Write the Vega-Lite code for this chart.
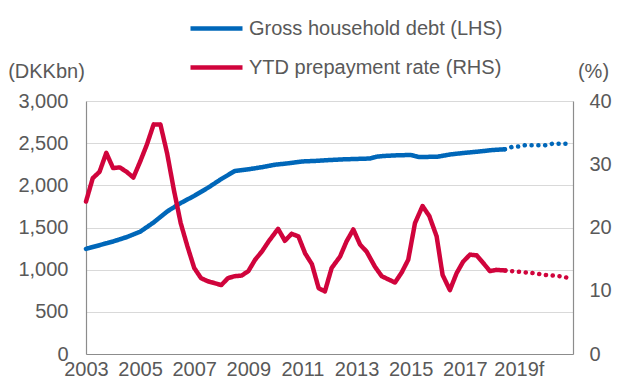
{
  "$schema": "https://vega.github.io/schema/vega-lite/v6.json",
  "width": 487,
  "height": 253,
  "autosize": "none",
  "padding": {"left": 86, "top": 101, "right": 49, "bottom": 24},
  "background": "white",
  "config": {
    "font": "Liberation Sans",
    "view": {"stroke": null},
    "axis": {"labelFontSize": 20, "labelColor": "#595959", "titleColor": "#595959", "titleFontSize": 20, "titleFontWeight": "normal", "ticks": false, "domainColor": "#8c8c8c", "domainWidth": 1.2, "gridColor": "#d9d9d9", "gridWidth": 1.2},
    "legend": {"labelFontSize": 20, "labelColor": "#595959", "labelFont": "Liberation Sans"}
  },
  "data": {"values": [
    {"s":"Gross household debt (LHS)","seg":"a","x":2003.0,"v":1247},
    {"s":"Gross household debt (LHS)","seg":"a","x":2003.5,"v":1290},
    {"s":"Gross household debt (LHS)","seg":"a","x":2004.0,"v":1334},
    {"s":"Gross household debt (LHS)","seg":"a","x":2004.5,"v":1385},
    {"s":"Gross household debt (LHS)","seg":"a","x":2005.0,"v":1450},
    {"s":"Gross household debt (LHS)","seg":"a","x":2005.5,"v":1560},
    {"s":"Gross household debt (LHS)","seg":"a","x":2006.0,"v":1690},
    {"s":"Gross household debt (LHS)","seg":"a","x":2006.5,"v":1790},
    {"s":"Gross household debt (LHS)","seg":"a","x":2007.0,"v":1875},
    {"s":"Gross household debt (LHS)","seg":"a","x":2007.5,"v":1970},
    {"s":"Gross household debt (LHS)","seg":"a","x":2008.0,"v":2075},
    {"s":"Gross household debt (LHS)","seg":"a","x":2008.5,"v":2170},
    {"s":"Gross household debt (LHS)","seg":"a","x":2009.0,"v":2190},
    {"s":"Gross household debt (LHS)","seg":"a","x":2009.5,"v":2215},
    {"s":"Gross household debt (LHS)","seg":"a","x":2010.0,"v":2245},
    {"s":"Gross household debt (LHS)","seg":"a","x":2010.5,"v":2262},
    {"s":"Gross household debt (LHS)","seg":"a","x":2011.0,"v":2283},
    {"s":"Gross household debt (LHS)","seg":"a","x":2011.5,"v":2290},
    {"s":"Gross household debt (LHS)","seg":"a","x":2012.0,"v":2300},
    {"s":"Gross household debt (LHS)","seg":"a","x":2012.5,"v":2308},
    {"s":"Gross household debt (LHS)","seg":"a","x":2013.0,"v":2313},
    {"s":"Gross household debt (LHS)","seg":"a","x":2013.5,"v":2318},
    {"s":"Gross household debt (LHS)","seg":"a","x":2013.75,"v":2340},
    {"s":"Gross household debt (LHS)","seg":"a","x":2014.0,"v":2348},
    {"s":"Gross household debt (LHS)","seg":"a","x":2014.5,"v":2356},
    {"s":"Gross household debt (LHS)","seg":"a","x":2015.0,"v":2360},
    {"s":"Gross household debt (LHS)","seg":"a","x":2015.3,"v":2335},
    {"s":"Gross household debt (LHS)","seg":"a","x":2016.0,"v":2340},
    {"s":"Gross household debt (LHS)","seg":"a","x":2016.5,"v":2368},
    {"s":"Gross household debt (LHS)","seg":"a","x":2017.0,"v":2385},
    {"s":"Gross household debt (LHS)","seg":"a","x":2017.5,"v":2400},
    {"s":"Gross household debt (LHS)","seg":"a","x":2018.0,"v":2418},
    {"s":"Gross household debt (LHS)","seg":"a","x":2018.48,"v":2428},
    {"s":"Gross household debt (LHS)","seg":"f","x":2018.48,"v":2428},
    {"s":"Gross household debt (LHS)","seg":"f","x":2018.73,"v":2454},
    {"s":"Gross household debt (LHS)","seg":"f","x":2018.98,"v":2460},
    {"s":"Gross household debt (LHS)","seg":"f","x":2019.22,"v":2475},
    {"s":"Gross household debt (LHS)","seg":"f","x":2019.96,"v":2475},
    {"s":"Gross household debt (LHS)","seg":"f","x":2020.25,"v":2494},
    {"s":"Gross household debt (LHS)","seg":"f","x":2020.76,"v":2494},
    {"s":"YTD prepayment rate (RHS)","seg":"a","x":2003.0,"v":24.1},
    {"s":"YTD prepayment rate (RHS)","seg":"a","x":2003.25,"v":27.8},
    {"s":"YTD prepayment rate (RHS)","seg":"a","x":2003.5,"v":28.8},
    {"s":"YTD prepayment rate (RHS)","seg":"a","x":2003.75,"v":31.8},
    {"s":"YTD prepayment rate (RHS)","seg":"a","x":2004.0,"v":29.4},
    {"s":"YTD prepayment rate (RHS)","seg":"a","x":2004.25,"v":29.5},
    {"s":"YTD prepayment rate (RHS)","seg":"a","x":2004.5,"v":28.8},
    {"s":"YTD prepayment rate (RHS)","seg":"a","x":2004.75,"v":27.9},
    {"s":"YTD prepayment rate (RHS)","seg":"a","x":2005.0,"v":30.4},
    {"s":"YTD prepayment rate (RHS)","seg":"a","x":2005.25,"v":33.1},
    {"s":"YTD prepayment rate (RHS)","seg":"a","x":2005.5,"v":36.3},
    {"s":"YTD prepayment rate (RHS)","seg":"a","x":2005.75,"v":36.3},
    {"s":"YTD prepayment rate (RHS)","seg":"a","x":2006.0,"v":31.7},
    {"s":"YTD prepayment rate (RHS)","seg":"a","x":2006.25,"v":25.9},
    {"s":"YTD prepayment rate (RHS)","seg":"a","x":2006.5,"v":20.7},
    {"s":"YTD prepayment rate (RHS)","seg":"a","x":2006.75,"v":17.0},
    {"s":"YTD prepayment rate (RHS)","seg":"a","x":2007.0,"v":13.6},
    {"s":"YTD prepayment rate (RHS)","seg":"a","x":2007.25,"v":12.0},
    {"s":"YTD prepayment rate (RHS)","seg":"a","x":2007.5,"v":11.5},
    {"s":"YTD prepayment rate (RHS)","seg":"a","x":2007.75,"v":11.2},
    {"s":"YTD prepayment rate (RHS)","seg":"a","x":2008.0,"v":10.9},
    {"s":"YTD prepayment rate (RHS)","seg":"a","x":2008.25,"v":12.0},
    {"s":"YTD prepayment rate (RHS)","seg":"a","x":2008.5,"v":12.3},
    {"s":"YTD prepayment rate (RHS)","seg":"a","x":2008.75,"v":12.4},
    {"s":"YTD prepayment rate (RHS)","seg":"a","x":2009.0,"v":13.1},
    {"s":"YTD prepayment rate (RHS)","seg":"a","x":2009.25,"v":14.9},
    {"s":"YTD prepayment rate (RHS)","seg":"a","x":2009.5,"v":16.2},
    {"s":"YTD prepayment rate (RHS)","seg":"a","x":2009.75,"v":17.8},
    {"s":"YTD prepayment rate (RHS)","seg":"a","x":2010.1,"v":19.8},
    {"s":"YTD prepayment rate (RHS)","seg":"a","x":2010.35,"v":17.9},
    {"s":"YTD prepayment rate (RHS)","seg":"a","x":2010.6,"v":19.0},
    {"s":"YTD prepayment rate (RHS)","seg":"a","x":2010.85,"v":18.6},
    {"s":"YTD prepayment rate (RHS)","seg":"a","x":2011.1,"v":15.9},
    {"s":"YTD prepayment rate (RHS)","seg":"a","x":2011.35,"v":14.2},
    {"s":"YTD prepayment rate (RHS)","seg":"a","x":2011.6,"v":10.4},
    {"s":"YTD prepayment rate (RHS)","seg":"a","x":2011.83,"v":9.9},
    {"s":"YTD prepayment rate (RHS)","seg":"a","x":2012.08,"v":13.6},
    {"s":"YTD prepayment rate (RHS)","seg":"a","x":2012.39,"v":15.4},
    {"s":"YTD prepayment rate (RHS)","seg":"a","x":2012.63,"v":17.8},
    {"s":"YTD prepayment rate (RHS)","seg":"a","x":2012.88,"v":19.7},
    {"s":"YTD prepayment rate (RHS)","seg":"a","x":2013.13,"v":17.3},
    {"s":"YTD prepayment rate (RHS)","seg":"a","x":2013.37,"v":16.2},
    {"s":"YTD prepayment rate (RHS)","seg":"a","x":2013.68,"v":13.8},
    {"s":"YTD prepayment rate (RHS)","seg":"a","x":2013.93,"v":12.3},
    {"s":"YTD prepayment rate (RHS)","seg":"a","x":2014.42,"v":11.3},
    {"s":"YTD prepayment rate (RHS)","seg":"a","x":2014.67,"v":12.9},
    {"s":"YTD prepayment rate (RHS)","seg":"a","x":2014.91,"v":14.9},
    {"s":"YTD prepayment rate (RHS)","seg":"a","x":2015.16,"v":20.7},
    {"s":"YTD prepayment rate (RHS)","seg":"a","x":2015.44,"v":23.4},
    {"s":"YTD prepayment rate (RHS)","seg":"a","x":2015.69,"v":21.8},
    {"s":"YTD prepayment rate (RHS)","seg":"a","x":2015.96,"v":18.6},
    {"s":"YTD prepayment rate (RHS)","seg":"a","x":2016.18,"v":12.5},
    {"s":"YTD prepayment rate (RHS)","seg":"a","x":2016.45,"v":10.1},
    {"s":"YTD prepayment rate (RHS)","seg":"a","x":2016.7,"v":12.8},
    {"s":"YTD prepayment rate (RHS)","seg":"a","x":2016.94,"v":14.6},
    {"s":"YTD prepayment rate (RHS)","seg":"a","x":2017.19,"v":15.7},
    {"s":"YTD prepayment rate (RHS)","seg":"a","x":2017.44,"v":15.6},
    {"s":"YTD prepayment rate (RHS)","seg":"a","x":2017.68,"v":14.4},
    {"s":"YTD prepayment rate (RHS)","seg":"a","x":2017.93,"v":13.1},
    {"s":"YTD prepayment rate (RHS)","seg":"a","x":2018.17,"v":13.3},
    {"s":"YTD prepayment rate (RHS)","seg":"a","x":2018.5,"v":13.2},
    {"s":"YTD prepayment rate (RHS)","seg":"f","x":2018.5,"v":13.2},
    {"s":"YTD prepayment rate (RHS)","seg":"f","x":2019.0,"v":13.0},
    {"s":"YTD prepayment rate (RHS)","seg":"f","x":2019.5,"v":12.8},
    {"s":"YTD prepayment rate (RHS)","seg":"f","x":2020.0,"v":12.5},
    {"s":"YTD prepayment rate (RHS)","seg":"f","x":2020.5,"v":12.3},
    {"s":"YTD prepayment rate (RHS)","seg":"f","x":2020.76,"v":12.1}
  ]},
  "encoding": {
    "x": {"field": "x", "type": "quantitative",
      "scale": {"domain": [2003, 2021], "nice": false, "zero": false},
      "axis": {"title": null, "values": [2003, 2005, 2007, 2009, 2011, 2013, 2015, 2017, 2019], "format": "d", "labelExpr": "datum.value == 2019 ? '2019f' : datum.label", "labelFlush": false, "labelOverlap": false, "labelPadding": 5, "grid": false}},
    "color": {"field": "s", "type": "nominal",
      "scale": {"domain": ["Gross household debt (LHS)", "YTD prepayment rate (RHS)"], "range": ["#0067b9", "#d0043c"]},
      "legend": {"title": null, "orient": "none", "legendX": 102, "legendY": -101, "symbolType": "stroke", "symbolSize": 2704, "symbolStrokeWidth": 4.5, "labelOffset": 4, "rowPadding": -16, "padding": 0, "labelLimit": 400}},
    "strokeDash": {"field": "seg", "type": "nominal", "scale": {"domain": ["a", "f"], "range": [[1, 0], [0.1, 6.7]]}, "legend": null}
  },
  "layer": [
    {
      "transform": [{"filter": "datum.s === 'Gross household debt (LHS)'"}],
      "mark": {"type": "line", "strokeWidth": 4.5, "strokeCap": "round", "strokeJoin": "round"},
      "encoding": {
        "y": {"field": "v", "type": "quantitative", "scale": {"domain": [0, 3000], "nice": false},
          "axis": {"orient": "left", "values": [0, 500, 1000, 1500, 2000, 2500, 3000], "format": ",.0f", "grid": true, "labelPadding": 18, "title": "(DKKbn)", "titleAngle": 0, "titleX": -40, "titleY": -30, "titleAlign": "center", "titleBaseline": "middle"}}
      }
    },
    {
      "transform": [{"filter": "datum.s === 'YTD prepayment rate (RHS)'"}],
      "mark": {"type": "line", "strokeWidth": 4.5, "strokeCap": "round", "strokeJoin": "round"},
      "encoding": {
        "y": {"field": "v", "type": "quantitative", "scale": {"domain": [0, 40], "nice": false},
          "axis": {"orient": "right", "values": [0, 10, 20, 30, 40], "grid": false, "labelPadding": 16, "title": "(%)", "titleAngle": 0, "titleX": 20, "titleY": -30, "titleAlign": "center", "titleBaseline": "middle"}}
      }
    }
  ],
  "resolve": {"scale": {"y": "independent"}}
}
